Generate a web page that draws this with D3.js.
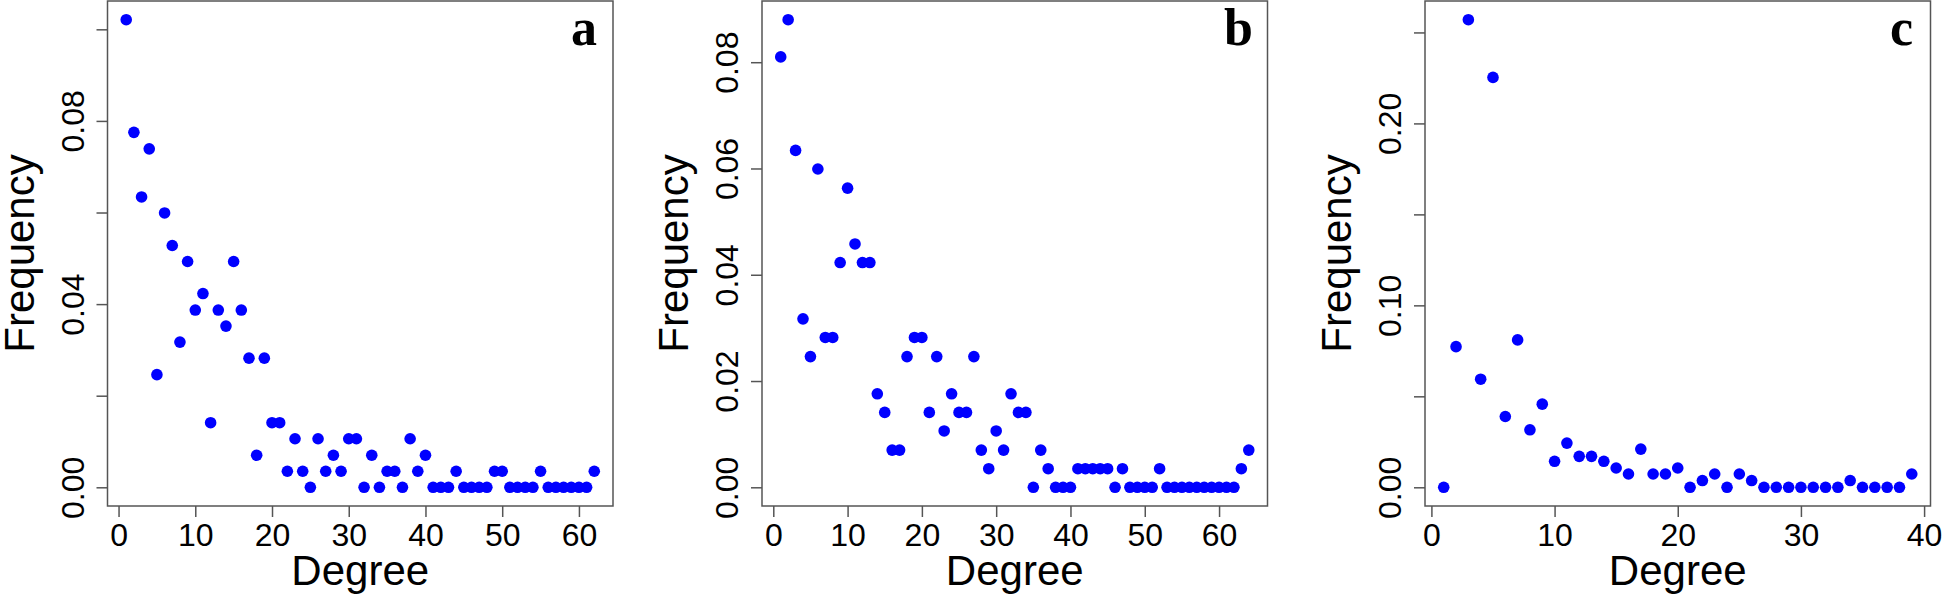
<!DOCTYPE html>
<html>
<head>
<meta charset="utf-8">
<script src="https://cdn.jsdelivr.net/npm/d3@7"></script>
<style>
  html, body { margin: 0; padding: 0; background: #fff; }
  svg text { font-family: "Liberation Sans", Arial, sans-serif; fill: #000; }
  .tick line, .box { stroke: #555; stroke-width: 1.5; }
  .box { fill: none; }
  .panel-label { font-family: "Liberation Serif", "Times New Roman", serif !important; font-weight: bold; }
</style>
</head>
<body>
<div id="graphic"><div class="chart"></div></div>
<script>
// Panel a
var degreeA = [1,2,3,4,5,6,7,8,9,10,11,12,13,14,15,16,17,18,19,20,21,22,23,24,25,26,27,28,29,30,
  31,32,33,34,35,36,37,38,39,40,41,42,43,44,45,46,47,48,49,50,51,52,53,54,55,56,57,58,59,60,61,62];
var freqA = [0.1021,0.0775,0.0634,0.0739,0.0246,0.0599,0.0528,0.0317,0.0493,0.0387,
  0.0423,0.0141,0.0387,0.0352,0.0493,0.0387,0.0282,0.0070,0.0282,0.0141,
  0.0141,0.0035,0.0106,0.0035,0,0.0106,0.0035,0.0070,0.0035,0.0106,
  0.0106,0,0.0070,0,0.0035,0.0035,0,0.0106,0.0035,0.0070,
  0,0,0,0.0035,0,0,0,0,0.0035,0.0035,
  0,0,0,0,0.0035,0,0,0,0,0,0,0.0035];

// Panel b
var degreeB = [1,2,3,4,5,6,7,8,9,10,11,12,13,14,15,16,17,18,19,20,21,22,23,24,25,26,27,28,29,30,
  31,32,33,34,35,36,37,38,39,40,41,42,43,44,45,46,47,48,49,50,51,52,53,54,55,56,57,58,59,60,61,62,63,64];
var freqB = [0.0810,0.0880,0.0634,0.0317,0.0246,0.0599,0.0282,0.0282,0.0423,0.0563,
  0.0458,0.0423,0.0423,0.0176,0.0141,0.0070,0.0070,0.0246,0.0282,0.0282,
  0.0141,0.0246,0.0106,0.0176,0.0141,0.0141,0.0246,0.0070,0.0035,0.0106,
  0.0070,0.0176,0.0141,0.0141,0,0.0070,0.0035,0,0,0,
  0.0035,0.0035,0.0035,0.0035,0.0035,0,0.0035,0,0,0,
  0,0.0035,0,0,0,0,0,0,0,0,0,0,0.0035,0.0070];

// Panel c
var degreeC = [1,2,3,4,5,6,7,8,9,10,11,12,13,14,15,16,17,18,19,20,
  21,22,23,24,25,26,27,28,29,30,31,32,33,34,35,36,37,38,39];
var freqC = [0,0.0773,0.2570,0.0594,0.2253,0.0389,0.0810,0.0316,0.0457,0.0143,
  0.0243,0.0170,0.0170,0.0143,0.0106,0.0073,0.0210,0.0073,0.0073,0.0106,
  0,0.0037,0.0073,0,0.0073,0.0037,0,0,0,0,0,0,0,0.0037,0,0,0,0,0.0073];

// Axis ticks (R drops some labels where they would overlap)
var xTicksA = [0,10,20,30,40,50,60];
var xTicksB = [0,10,20,30,40,50,60];
var xTicksC = [0,10,20,30,40];
var yTicksA = [0,0.02,0.04,0.06,0.08,0.10];
var yLabelsA = [0,0.04,0.08];
var yTicksB = [0,0.02,0.04,0.06,0.08];
var yLabelsB = [0,0.02,0.04,0.06,0.08];
var yTicksC = [0,0.05,0.10,0.15,0.20,0.25];
var yLabelsC = [0,0.10,0.20];

var panelNames = ["a", "b", "c"];
var axisTitles = { x: "Degree", y: "Frequency" };

(function(d3) {
  var
  W = 1943,
  H = 596,
  plot = { top: 1, bottom: 506, width: 505.5 },
  lefts = [107.5, 762, 1425],
  tick = 11,
  fmt = d3.format(".2f")
  ;

  var panels = [
    { degree: degreeA, freq: freqA, xt: xTicksA, yt: yTicksA, yl: yLabelsA },
    { degree: degreeB, freq: freqB, xt: xTicksB, yt: yTicksB, yl: yLabelsB },
    { degree: degreeC, freq: freqC, xt: xTicksC, yt: yTicksC, yl: yLabelsC }
  ];

  var svg = d3.select(".chart").append("svg")
      .attr("width", W)
      .attr("height", H);

  // R-style 4% padding on both ends of the data range
  function padded(ext) {
    var p = (ext[1] - ext[0]) * 0.04;
    return [ext[0] - p, ext[1] + p];
  }

  panels.forEach(function(p, i) {
    var left = lefts[i], right = left + plot.width;

    var x = d3.scaleLinear()
        .domain(padded(d3.extent(p.degree)))
        .range([left, right]);

    var y = d3.scaleLinear()
        .domain(padded(d3.extent(p.freq)))
        .range([plot.bottom, plot.top]);

    var g = svg.append("g");

    // x axis
    var xAxis = g.append("g")
        .attr("transform", "translate(0," + plot.bottom + ")")
        .call(d3.axisBottom(x).tickValues(p.xt).tickSize(tick).tickPadding(6).tickSizeOuter(0));
    xAxis.select(".domain").remove();
    xAxis.selectAll("text").style("font-size", "32px");

    // y axis, labels parallel to the axis
    var yAxis = g.append("g")
        .attr("transform", "translate(" + left + ",0)")
        .call(d3.axisLeft(y).tickValues(p.yt).tickSize(tick).tickSizeOuter(0)
          .tickFormat(function(d) {
            return p.yl.some(function(v) { return Math.abs(v - d) < 1e-9; }) ? fmt(d) : "";
          }));
    yAxis.select(".domain").remove();
    yAxis.selectAll("text")
        .filter(function() { return this.textContent === ""; })
        .remove();
    yAxis.selectAll("text")
        .attr("x", 0)
        .attr("y", -24)
        .attr("dy", 0)
        .attr("transform", "rotate(-90)")
        .attr("text-anchor", "middle")
        .style("font-size", "32px");

    // frame
    g.append("rect")
        .attr("class", "box")
        .attr("x", left)
        .attr("y", plot.top)
        .attr("width", plot.width)
        .attr("height", plot.bottom - plot.top);

    // points
    g.append("g").selectAll("circle")
        .data(p.degree)
      .enter().append("circle")
        .attr("cx", function(d) { return x(d); })
        .attr("cy", function(d, j) { return y(p.freq[j]); })
        .attr("r", 5.8)
        .attr("fill", "#0000ff");

    // titles
    g.append("text")
        .attr("x", (left + right) / 2)
        .attr("y", 585)
        .attr("text-anchor", "middle")
        .style("font-size", "42px")
        .text(axisTitles.x);

    g.append("text")
        .attr("transform", "translate(" + (left - 74) + "," + ((plot.top + plot.bottom) / 2) + ") rotate(-90)")
        .attr("text-anchor", "middle")
        .style("font-size", "42px")
        .text(axisTitles.y);

    g.append("text")
        .attr("class", "panel-label")
        .attr("x", right - 29)
        .attr("y", 45)
        .attr("text-anchor", "middle")
        .style("font-size", "52px")
        .text(panelNames[i]);
  });
})(d3);
</script>
</body>
</html>
